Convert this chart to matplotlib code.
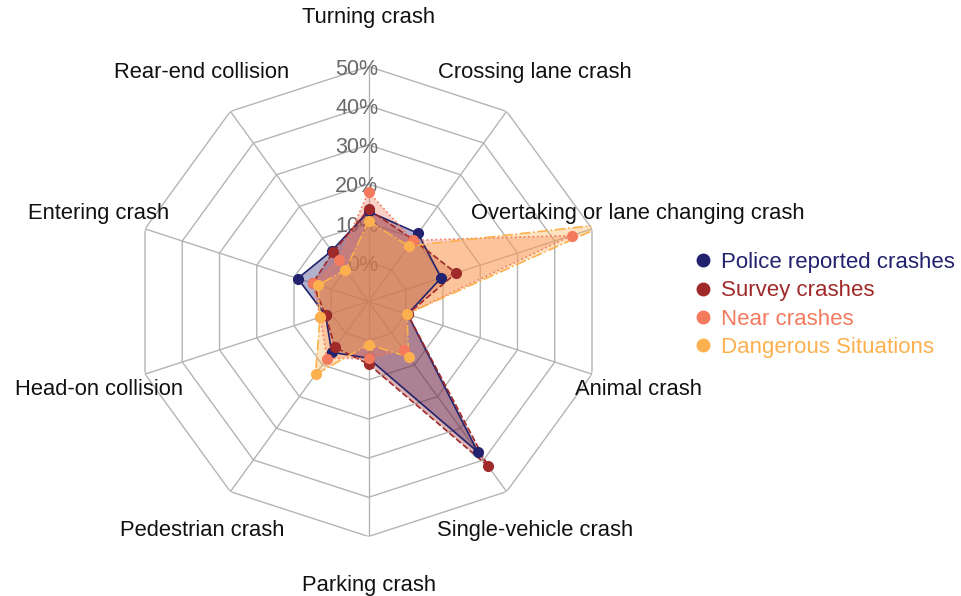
import numpy as np
import matplotlib
matplotlib.use("Agg")
import matplotlib.pyplot as plt
import matplotlib.transforms as mtransforms
from matplotlib.lines import Line2D

plt.rcParams['font.family'] = ['Liberation Sans', 'DejaVu Sans']

# data (percent)
categories = ["Turning crash", "Crossing lane crash", "Overtaking or lane changing crash",
              "Animal crash", "Single-vehicle crash", "Parking crash", "Pedestrian crash",
              "Head-on collision", "Entering crash", "Rear-end collision"]
series_names = ["Police reported crashes", "Survey crashes", "Near crashes", "Dangerous Situations"]
police = [13, 11.5, 9.5, 0.5, 37.5, 4.5, 6, 1.5, 9, 6]
survey = [13.5, 9.5, 13.5, 0.5, 42, 6, 4.5, 1.5, 5, 5.5]
near = [18, 9.3, 44.5, 0.3, 5.3, 4.5, 8, 3, 5, 3]
danger = [10.5, 7.5, 54, 0.3, 7.5, 1, 13, 3, 3.5, 0]
tick_vals = [0, 10, 20, 30, 40, 50]
tick_labels = ["0%", "10%", "20%", "30%", "40%", "50%"]

colors = ["#22226e", "#a02a2a", "#f47a5e", "#fdb04e"]
styles = ["-", "--", ":", "-."]

n = len(categories)
theta = np.arange(n) * 2 * np.pi / n
theta_c = np.append(theta, theta[0])

fig = plt.figure(figsize=(9.62, 5.96), dpi=100)
ax = fig.add_axes([133.5 / 962, 59.5 / 596, 470 / 962, 470 / 596], projection='polar')
ax.set_theta_zero_location('N')
ax.set_theta_direction(-1)
ax.set_ylim(-0.1, 0.5)
ax.axis('off')

# decagon grid
for t in tick_vals:
    r = np.full(n + 1, t / 100)
    ax.plot(theta_c, r, color='#b4b4b4', lw=1, zorder=1)
for th in theta:
    ax.plot([th, th], [-0.1, 0.5], color='#b4b4b4', lw=1, zorder=1)

# percent labels on the top axis
off = mtransforms.ScaledTranslation(10 / 100, -3 / 100, fig.dpi_scale_trans)
for t, lab in zip(tick_vals, tick_labels):
    ax.text(0, t / 100, lab, ha='right', va='center', fontsize=15.5,
            color='#6a6a6a', transform=ax.transData + off, zorder=2)

# category labels
for th, lab in zip(theta, categories):
    ax.text(th, 0.624, lab, ha='center', va='center', fontsize=15.8, color='#111111')

all_data = [police, survey, near, danger]
for vals, col, ls in zip(all_data, colors, styles):
    v = np.array(vals + vals[:1]) / 100
    ax.fill(theta_c, v, color=col, alpha=0.35, lw=0, zorder=3)
    ax.plot(theta_c, v, color=col, ls=ls, lw=1.2, zorder=4)
    ax.plot(theta, v[:-1], 'o', color=col, ms=7, zorder=5)

handles = [Line2D([], [], ls='none', marker='o', ms=9, color=c) for c in colors]
leg = fig.legend(handles, series_names, loc='center left',
                 bbox_to_anchor=(681 / 962, 1 - 305 / 596), frameon=False,
                 fontsize=16, handletextpad=0.3, labelspacing=0.33, handlelength=1.0,
                 borderpad=0)
for txt, c in zip(leg.get_texts(), colors):
    txt.set_color(c)

fig.savefig("out.png", dpi=100)
